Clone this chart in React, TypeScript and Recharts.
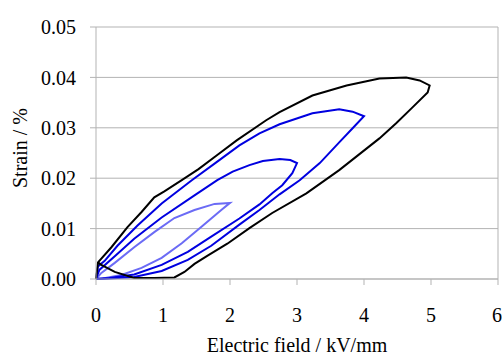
import { LineChart, Line, XAxis, YAxis, CartesianGrid, ReferenceLine } from "recharts";

// hysteresis loops, [field kV/mm, strain %]
const loop5 = [
  [0, 0], [0.03, 0.0033], [0.23, 0.0063], [0.47, 0.0103], [0.68, 0.0133], [0.87, 0.0162],
  [1.02, 0.0174], [1.28, 0.0196], [1.53, 0.0218], [1.8, 0.0245], [2.1, 0.0275], [2.54, 0.0315],
  [2.74, 0.0331], [3.23, 0.0364], [3.74, 0.0384], [4.23, 0.0398], [4.63, 0.04], [4.83, 0.0394],
  [4.98, 0.0384], [4.95, 0.037], [4.72, 0.034], [4.48, 0.0309], [4.23, 0.0279], [3.63, 0.0216],
  [3.14, 0.017], [2.63, 0.0131], [2.29, 0.0101], [1.96, 0.007], [1.66, 0.0046], [1.47, 0.003],
  [1.32, 0.0014], [1.17, 0.0003], [0.87, 0.0002], [0.57, 0.0002], [0.28, 0.0014], [0.08, 0.0028],
  [0.03, 0.0033],
];
const loop4 = [
  [0, 0], [0.03, 0.0025], [0.13, 0.0036], [0.32, 0.0066], [0.62, 0.0106], [0.98, 0.015],
  [1.43, 0.0196], [1.8, 0.0232], [2.14, 0.0265], [2.44, 0.0289], [2.74, 0.0307], [3.23, 0.0329],
  [3.63, 0.0337], [3.83, 0.0332], [4.0, 0.0323], [3.83, 0.0299], [3.63, 0.0271], [3.34, 0.023],
  [3.04, 0.0196], [2.74, 0.0168], [2.44, 0.0137], [2.14, 0.0108], [1.72, 0.0066], [1.37, 0.0038],
  [0.98, 0.0016], [0.57, 0.0004], [0.2, 0.0001], [0, 0],
];
const loop3 = [
  [0, 0], [0.05, 0.0018], [0.28, 0.0045], [0.57, 0.008], [0.98, 0.0122], [1.47, 0.0166],
  [1.81, 0.0196], [2.04, 0.0213], [2.29, 0.0226], [2.49, 0.0234], [2.74, 0.0238], [2.9, 0.0236],
  [3.0, 0.023], [2.93, 0.021], [2.78, 0.0186], [2.63, 0.017], [2.44, 0.0148], [2.14, 0.012],
  [1.72, 0.0084], [1.37, 0.0054], [0.98, 0.0028], [0.57, 0.0009], [0.2, 0.0002], [0, 0],
];
const loop2 = [
  [0, 0], [0.08, 0.0012], [0.28, 0.0032], [0.57, 0.0063], [0.87, 0.0093], [1.17, 0.0121],
  [1.47, 0.0137], [1.77, 0.0149], [2.0, 0.0151], [1.87, 0.0137], [1.57, 0.0103], [1.28, 0.0071],
  [0.98, 0.0042], [0.68, 0.0022], [0.38, 0.0008], [0.1, 0.0001], [0, 0],
];

const xTicks = [0, 1, 2, 3, 4, 5, 6];
const yTicks = [0, 0.01, 0.02, 0.03, 0.04, 0.05];

const toRows = (pts: number[][]) => pts.map(([x, y]) => ({ x, y }));

const FONT = "'Liberation Serif', 'Times New Roman', serif";
const GRID = "#b3b3b3";

export default function App() {
  const tick = { fontSize: 20, fill: "#000", fontFamily: FONT };
  return (
    <div style={{ position: "absolute", left: 0, top: 0, background: "#fff" }}>
      <LineChart width={502} height={355} margin={{ top: 27, right: 4, bottom: 0, left: 0 }}>
        <CartesianGrid vertical={false} stroke={GRID} />
        <XAxis
          type="number"
          dataKey="x"
          domain={[0, 6]}
          ticks={xTicks}
          height={76}
          stroke={GRID}
          tickSize={6}
          tickMargin={23}
          tick={tick}
          label={{ value: "Electric field / kV/mm", position: "insideBottom", offset: 3, style: { fontSize: 20, fill: "#000", fontFamily: FONT } }}
        />
        <YAxis
          type="number"
          domain={[0, 0.05]}
          ticks={yTicks}
          width={96}
          stroke={GRID}
          tickSize={6}
          tickMargin={14}
          tick={tick}
          tickFormatter={(v: number) => v.toFixed(2)}
          label={{ value: "Strain / %", angle: -90, position: "center", dx: -28, dy: -5, style: { fontSize: 20, fill: "#000", fontFamily: FONT } }}
        />
        <ReferenceLine x={6} stroke={GRID} />
        <Line data={toRows(loop2)} dataKey="y" stroke="#6b6bf5" strokeWidth={2} dot={false} type="linear" isAnimationActive={false} />
        <Line data={toRows(loop3)} dataKey="y" stroke="#0000e0" strokeWidth={2} dot={false} type="linear" isAnimationActive={false} />
        <Line data={toRows(loop4)} dataKey="y" stroke="#0000e0" strokeWidth={2} dot={false} type="linear" isAnimationActive={false} />
        <Line data={toRows(loop5)} dataKey="y" stroke="#000" strokeWidth={2} dot={false} type="linear" isAnimationActive={false} />
      </LineChart>
    </div>
  );
}
